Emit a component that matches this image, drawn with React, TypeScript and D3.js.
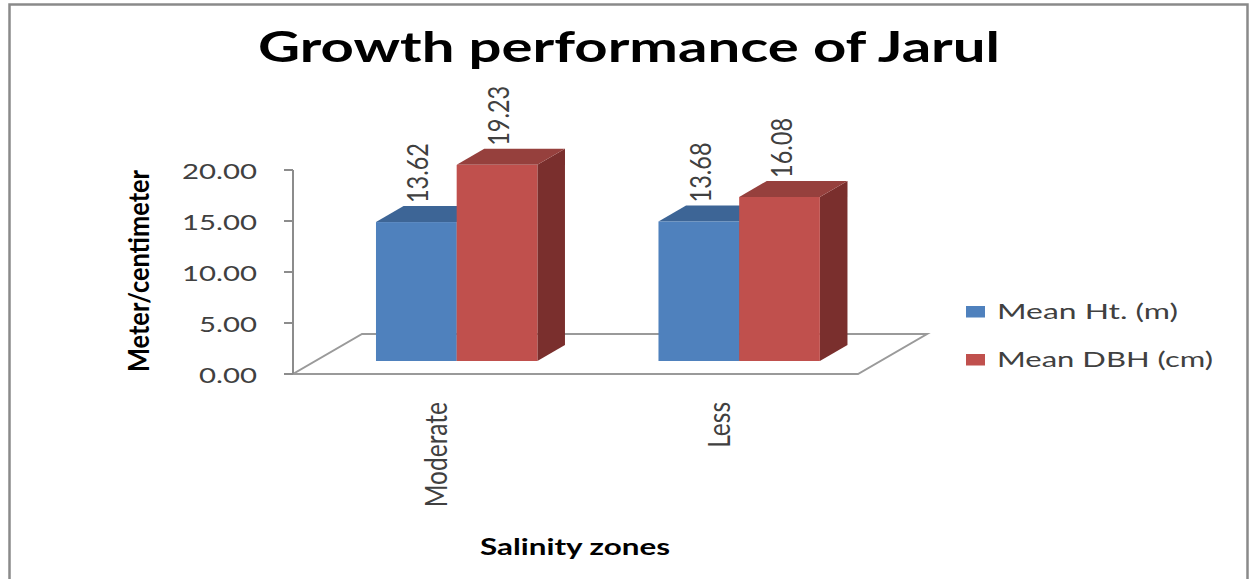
import React from "react";
import * as d3 from "d3";

const categories = ["Moderate", "Less"];
const seriesNames = ["Mean Ht. (m)", "Mean DBH (cm)"];
const meanHt = [13.62, 13.68];
const meanDbh = [19.23, 16.08];
const yTicks = [0, 5, 10, 15, 20];

const W = 1252;
const H = 579;
const FONT = "Lato, 'Open Sans', sans-serif";

const colors = [
  { front: "#4F81BD", top: "#3D6596", side: "#2F4E74" },
  { front: "#C0504D", top: "#96403D", side: "#7A2F2D" },
];

export default function App() {
  const x0 = 293, x1 = 858;
  const y = d3.scaleLinear().domain([0, 20]).range([374, 170]);
  const xCat = d3.scaleBand<string>().domain(categories).range([x0, x1]).paddingInner(0.4287).paddingOuter(0.4287 / 2);
  const xSer = d3.scaleBand<string>().domain(seriesNames).range([0, xCat.bandwidth()]);

  // floor depth vector
  const depthX = 69, depthY = -40;
  const fFront = 0.325, fBack = 0.725;
  const fdx = depthX * fFront, fdy = depthY * fFront;
  const bdx = depthX * (fBack - fFront), bdy = depthY * (fBack - fFront);

  const values = [meanHt, meanDbh];
  const bars: any[] = [];
  categories.forEach((c, ci) => {
    seriesNames.forEach((s, si) => {
      const v = values[si][ci];
      const xl = (xCat(c) as number) + (xSer(s) as number) + fdx;
      const xr = xl + xSer.bandwidth();
      const yb = y(0) + fdy;
      const yt = y(v) + fdy;
      bars.push({ key: c + s, si, v, xl, xr, yb, yt });
    });
  });

  const fmt = d3.format(".2f");
  const stroke = "#8c8c8c";

  return (
    <svg width={W} height={H} style={{ position: "absolute", left: 0, top: 0, background: "#fff" }} fontFamily={FONT}>
      <rect x={9.5} y={4.5} width={1238} height={620} fill="#fff" stroke="#8a8a8a" strokeWidth={2.5} />
      {/* title */}
      <text x={258} y={62} fontSize={42} fontWeight="bold" fill="#000" textLength={742} lengthAdjust="spacingAndGlyphs">
        Growth performance of Jarul
      </text>

      {/* floor */}
      <polygon
        points={`${x0},${y(0)} ${x1},${y(0)} ${x1 + depthX},${y(0) + depthY} ${x0 + depthX},${y(0) + depthY}`}
        fill="#fff" stroke="#9a9a9a" strokeWidth={2} />

      {/* y axis */}
      <line x1={x0} x2={x0} y1={y(20)} y2={y(0)} stroke={stroke} strokeWidth={2} />
      {yTicks.map((t) => (
        <g key={t}>
          <line x1={x0 - 9} x2={x0} y1={y(t)} y2={y(t)} stroke={stroke} strokeWidth={2} />
          <text x={257} y={y(t) + 8.5} fontSize={22} fill="#404040" textAnchor="end"
            textLength={fmt(t).length === 5 ? 75 : 58} lengthAdjust="spacingAndGlyphs">{fmt(t)}</text>
        </g>
      ))}

      {/* bars */}
      {bars.map((b) => {
        const c = colors[b.si];
        return (
          <g key={b.key}>
            <polygon points={`${b.xr},${b.yt} ${b.xr + bdx},${b.yt + bdy} ${b.xr + bdx},${b.yb + bdy} ${b.xr},${b.yb}`} fill={c.side} />
            <polygon points={`${b.xl},${b.yt} ${b.xr},${b.yt} ${b.xr + bdx},${b.yt + bdy} ${b.xl + bdx},${b.yt + bdy}`} fill={c.top} />
            <rect x={b.xl} y={b.yt} width={b.xr - b.xl} height={b.yb - b.yt} fill={c.front} />
          </g>
        );
      })}
      {/* value labels */}
      {bars.map((b) => {
        const cx = (b.xl + b.xr) / 2 + 12;
        const yy = b.yt + bdy - 3;
        return (
          <text key={"l" + b.key} transform={`translate(${cx},${yy}) rotate(-90)`} fontSize={29} fill="#404040"
            textLength={60} lengthAdjust="spacingAndGlyphs">{fmt(b.v)}</text>
        );
      })}

      {/* category labels */}
      {categories.map((c) => {
        const cx = (xCat(c) as number) + xCat.bandwidth() / 2 + 13;
        return (
          <text key={c} transform={`translate(${cx},402) rotate(-90) scale(0.79,1)`} fontSize={31} fill="#404040" textAnchor="end">{c}</text>
        );
      })}

      {/* axis titles */}
      <text transform="translate(149,271) rotate(-90)" fontSize={28} fontWeight="bold" fill="#000" textAnchor="middle"
        textLength={202} lengthAdjust="spacingAndGlyphs">Meter/centimeter</text>
      <text x={480} y={555} fontSize={22} fontWeight="bold" fill="#000" textLength={190} lengthAdjust="spacingAndGlyphs">Salinity zones</text>

      {/* legend */}
      {seriesNames.map((s, i) => (
        <g key={s}>
          <rect x={966} y={306 + i * 48} width={19} height={11.5} fill={colors[i].front} />
          <text x={997} y={319 + i * 48} fontSize={22} fill="#404040"
            textLength={i === 0 ? 181 : 216} lengthAdjust="spacingAndGlyphs">{s}</text>
        </g>
      ))}
    </svg>
  );
}
